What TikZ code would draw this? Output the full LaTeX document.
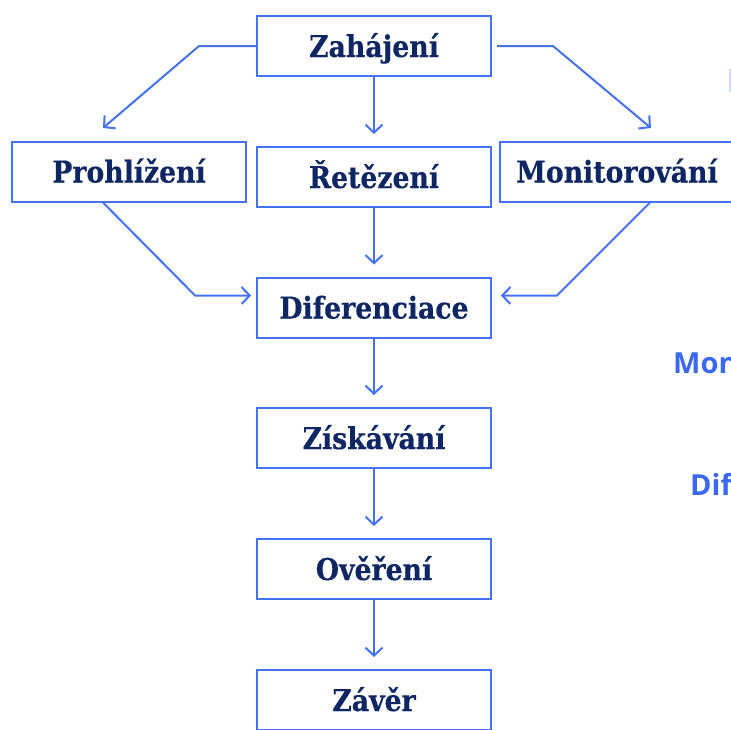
\documentclass[tikz,border=0pt]{standalone}
\usepackage{fontspec}
\usetikzlibrary{arrows.meta}
\newfontfamily\boxfont[FakeStretch=0.89, FakeBold=0.4]{DejaVu Serif}
\newfontfamily\sidefont{Open Sans}
\definecolor{linec}{HTML}{4472F2}
\definecolor{txtc}{HTML}{0E2663}
\definecolor{sidec}{HTML}{3A68F2}
\tikzset{
  stepbox/.style={draw=linec, line width=2pt, minimum width=234pt, minimum height=60pt,
    inner sep=0pt, text height=26pt, text depth=4pt,
    font=\boxfont\bfseries\fontsize{30}{36}\selectfont, text=txtc, fill=white},
  flow/.style={draw=linec, line width=2pt,
    -{Straight Barb[length=8pt,width=17pt,line width=2pt]}},
  sidetext/.style={font=\sidefont\bfseries\fontsize{29}{34}\selectfont, text=sidec,
    inner sep=0pt, anchor=base west}
}
\begin{document}
\begin{tikzpicture}[x=1pt,y=-1pt]
\useasboundingbox (0,0) rectangle (731,729);
\clip (0,0) rectangle (731,729);
\node[stepbox] (zah) at (374,46) {Zahájení};
\node[stepbox] (pro) at (129,171.5) {Prohlížení};
\node[stepbox] (ret) at (374,177) {Řetězení};
\node[stepbox] (mon) at (617,171.5) {Monitorování};
\node[stepbox] (dif) at (374,307.5) {Diferenciace};
\node[stepbox] (zis) at (374,438) {Získávání};
\node[stepbox] (ove) at (374,569) {Ověření};
\node[stepbox] (zav) at (374,700) {Závěr};
\coordinate (tipL) at (103,128);
\coordinate (tipR) at (651,128);
\draw[flow] (zah.west) -- ++(-57,0) -- (tipL);
\draw[flow] ([xshift=5pt]zah.east) -- ++(56,0) -- (tipR);
\draw[flow] (zah.south) -- ([yshift=12pt]ret.north);
\draw[flow] (ret.south) -- ([yshift=12pt]dif.north);
\draw[flow] (dif.south) -- ([yshift=12pt]zis.north);
\draw[flow] (zis.south) -- ([yshift=12pt]ove.north);
\draw[flow] (ove.south) -- ([yshift=12pt]zav.north);
\draw[flow] ([xshift=-26pt]pro.south) -- ++(92,93) -- ([xshift=-5pt,yshift=12pt]dif.west);
\draw[flow] ([xshift=33pt]mon.south) -- ++(-93,93) -- ([xshift=9pt,yshift=12pt]dif.east);
\node[sidetext] (s1) at (673,373) {Mon};
\node[sidetext] (s2) at (690,495) {Dif};
\draw[draw=linec!25, line width=1.5pt] (730,69) -- (730,92);
\end{tikzpicture}
\end{document}
